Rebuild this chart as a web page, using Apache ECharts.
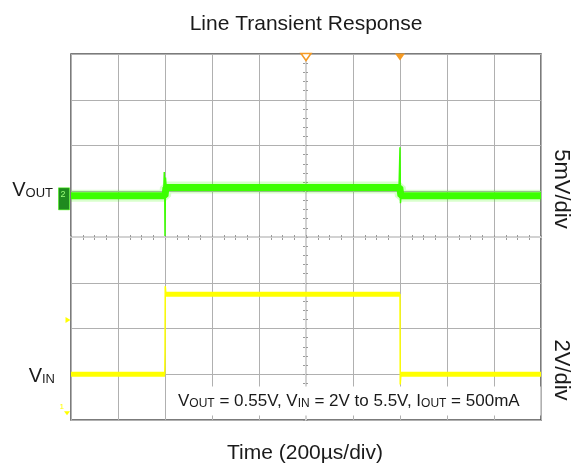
<!DOCTYPE html>
<html>
<head>
<meta charset="utf-8">
<title>Line Transient Response</title>
<script src="https://cdn.jsdelivr.net/npm/echarts@6/dist/echarts.min.js"></script>
<style>
    html, body {
        margin: 0;
        padding: 0;
        background: #fff;
    }
    #chart {
        width: 572px;
        height: 464px;
    }
</style>
</head>
<body>
<div id="chart"></div>
<script>
// time in µs (200µs/div, 0 = screen centre)
const timeTicks = [-1000, 1000, 200];
// VIN in V, 2V/div
const vinLevels = [[-1000, 2.0], [-600, 2.0], [-599, '-'], [-597, 5.5], [400, 5.5], [401, '-'], [402, 2.0], [1000, 2.0]];
const vinTrace = [[-1000, 2.0], [-601, 2.0], [-600, 2.95], [-599, 5.85], [-596, 5.5], [400, 5.5], [401, 1.55], [404, 2.0], [1000, 2.0]];
// VOUT in mV, 5mV/div
const voutLevels = [[-1000, 550.0], [-600, 550.0], [-596, 550.9], [399, 550.9], [404, 550.0], [1000, 550.0]];
const voutTrace = [[-1000, 550.0], [-606, 550.0], [-603, 552.6], [-601, 550.2], [-600, 545.6], [-598, 552.0], [-595, 550.9], [396, 550.9], [400, 555.3], [402, 549.2], [405, 550.4], [408, 550.0], [1000, 550.0]];
// channel scales (min, max of the 8 vertical divisions)
const vinRange = [0, 16];
const voutRange = [525.5, 565.5];
const divRange = [-4, 4];

const chart = echarts.init(document.getElementById('chart'));

const FONT = '"Liberation Sans", Arial, sans-serif';
const GREEN = '#3CFF00';
const YELLOW = '#FFFF00';
const ORANGE = '#F59A23';

let gridAxis = function (extra) {
    return Object.assign({
        type: 'value',
        axisLabel: { show: false },
        splitLine: { show: false },
        axisLine: { show: false, onZero: true, onZeroAxisIndex: 0 },
        axisTick: { show: true, length: 3, lineStyle: { color: '#9a9a9a', width: 1 } },
        minorTick: { show: true, length: 3, lineStyle: { color: '#9a9a9a', width: 1 } }
    }, extra);
};

let option = {
    animation: false,
    backgroundColor: '#fff',
    grid: {
        left: 71,
        top: 54,
        width: 470,
        height: 366,
        show: true,
        borderColor: '#505050',
        borderWidth: 1.5,
        backgroundColor: '#fff'
    },
    xAxis: [
        gridAxis({
            position: 'bottom',
            min: timeTicks[0], max: timeTicks[1], interval: timeTicks[2],
            splitLine: { show: true, lineStyle: { color: '#b0b0b0', width: 1 } },
            minorTick: { show: true, splitNumber: 4, length: 3, lineStyle: { color: '#9a9a9a', width: 1 } }
        }),
        gridAxis({
            position: 'top',
            z: 1,
            min: timeTicks[0], max: timeTicks[1], interval: timeTicks[2],
            axisLine: { show: true, onZero: true, onZeroAxisIndex: 0, lineStyle: { color: '#d2d2d2', width: 2 } },
            axisTick: { show: true, length: 2, lineStyle: { color: '#9a9a9a', width: 1 } },
            minorTick: { show: true, splitNumber: 4, length: 2, lineStyle: { color: '#9a9a9a', width: 1 } }
        })
    ],
    yAxis: [
        gridAxis({
            position: 'left',
            min: divRange[0], max: divRange[1], interval: 1,
            splitLine: { show: true, lineStyle: { color: '#b0b0b0', width: 1 } },
            minorTick: { show: true, splitNumber: 5, length: 3, lineStyle: { color: '#9a9a9a', width: 1 } }
        }),
        gridAxis({
            position: 'right',
            z: 1,
            min: divRange[0], max: divRange[1], interval: 1,
            axisLine: { show: true, onZero: true, onZeroAxisIndex: 0, lineStyle: { color: '#d2d2d2', width: 2 } },
            axisTick: { show: true, length: 2, lineStyle: { color: '#9a9a9a', width: 1 } },
            minorTick: { show: true, splitNumber: 5, length: 2, lineStyle: { color: '#9a9a9a', width: 1 } }
        }),
        { type: 'value', show: false, min: vinRange[0], max: vinRange[1] },
        { type: 'value', show: false, min: voutRange[0], max: voutRange[1] }
    ],
    series: [
        {
            name: 'VIN',
            type: 'line',
            xAxisIndex: 0,
            yAxisIndex: 2,
            z: 5,
            symbol: 'none',
            connectNulls: false,
            lineStyle: { color: YELLOW, width: 5 },
            data: vinLevels
        },
        {
            name: 'VIN trace',
            type: 'line',
            xAxisIndex: 0,
            yAxisIndex: 2,
            z: 5,
            symbol: 'none',
            lineStyle: { color: YELLOW, width: 1.5 },
            data: vinTrace,
            markPoint: {
                silent: true,
                data: [
                    { coord: [-1000, 4.37], symbol: 'triangle', symbolRotate: -90, symbolSize: [6, 5], symbolOffset: [-3, 0], itemStyle: { color: YELLOW }, label: { show: false } },
                    { coord: [-1000, 0.3], symbol: 'triangle', symbolRotate: 180, symbolSize: [6, 4], symbolOffset: [-4, 0], itemStyle: { color: YELLOW },
                      label: { show: true, position: 'left', formatter: '1', color: YELLOW, fontSize: 8, fontFamily: FONT, distance: 0, offset: [0, -6] } }
                ]
            }
        },
        {
            name: 'VOUT',
            type: 'line',
            xAxisIndex: 0,
            yAxisIndex: 3,
            z: 5,
            symbol: 'none',
            lineStyle: { color: GREEN, width: 12, opacity: 0.2 },
            data: voutLevels
        },
        {
            name: 'VOUT band',
            type: 'line',
            xAxisIndex: 0,
            yAxisIndex: 3,
            z: 5,
            symbol: 'none',
            lineStyle: { color: GREEN, width: 7 },
            data: voutLevels
        },
        {
            name: 'VOUT trace',
            type: 'line',
            xAxisIndex: 0,
            yAxisIndex: 3,
            z: 5,
            symbol: 'none',
            lineStyle: { color: GREEN, width: 1.5 },
            data: voutTrace,
            markPoint: {
                silent: true,
                data: [
                    { coord: [0, voutRange[1]], symbol: 'triangle', symbolRotate: 180, symbolSize: [10, 7], symbolOffset: [0, 3],
                      itemStyle: { color: '#fff', borderColor: ORANGE, borderWidth: 1.5 }, label: { show: false } },
                    { coord: [400, voutRange[1]], symbol: 'triangle', symbolRotate: 180, symbolSize: [10, 7], symbolOffset: [0, 3],
                      itemStyle: { color: ORANGE }, label: { show: false } },
                    { coord: [-1000, 550.0], symbol: 'rect', symbolSize: [11, 22], symbolOffset: [-7, 3],
                      itemStyle: { color: '#1f8a1f', borderColor: GREEN, borderWidth: 0.5 },
                      label: { show: true, position: 'inside', formatter: '2', color: '#9dff7a', fontSize: 9, fontFamily: FONT, offset: [-1, -4] } }
                ]
            }
        }
    ],
    graphic: [
        {
            type: 'text', x: 306, y: 24,
            style: { text: 'Line Transient Response', font: '21px ' + FONT, fill: '#1a1a1a', align: 'center', verticalAlign: 'middle' }
        },
        {
            type: 'text', x: 305, y: 453,
            style: { text: 'Time (200µs/div)', font: '21px ' + FONT, fill: '#1a1a1a', align: 'center', verticalAlign: 'middle' }
        },
        {
            type: 'text', x: 561, y: 189, rotation: -Math.PI / 2,
            style: { text: '5mV/div', font: '22px ' + FONT, fill: '#1a1a1a', align: 'center', verticalAlign: 'middle' }
        },
        {
            type: 'text', x: 561, y: 370, rotation: -Math.PI / 2,
            style: { text: '2V/div', font: '22px ' + FONT, fill: '#1a1a1a', align: 'center', verticalAlign: 'middle' }
        },
        {
            type: 'text', x: 53, y: 190,
            style: {
                text: '{v|V}{s|OUT}', align: 'right', verticalAlign: 'middle', fill: '#1a1a1a',
                rich: {
                    v: { fontSize: 20, fontFamily: FONT, lineHeight: 20, verticalAlign: 'bottom', fill: '#1a1a1a' },
                    s: { fontSize: 13, fontFamily: FONT, lineHeight: 15, verticalAlign: 'bottom', fill: '#1a1a1a' }
                }
            }
        },
        {
            type: 'text', x: 55, y: 376,
            style: {
                text: '{v|V}{s|IN}', align: 'right', verticalAlign: 'middle', fill: '#1a1a1a',
                rich: {
                    v: { fontSize: 20, fontFamily: FONT, lineHeight: 20, verticalAlign: 'bottom', fill: '#1a1a1a' },
                    s: { fontSize: 13, fontFamily: FONT, lineHeight: 15, verticalAlign: 'bottom', fill: '#1a1a1a' }
                }
            }
        },
        {
            type: 'text', x: 170, y: 401, z: 3,
            style: {
                text: '{v|V}{s|OUT}{v| = 0.55V, V}{s|IN}{v| = 2V to 5.5V, I}{s|OUT}{v| = 500mA}',
                align: 'left', verticalAlign: 'middle', fill: '#1a1a1a',
                backgroundColor: '#fff', padding: [6, 21, 6, 8],
                rich: {
                    v: { fontSize: 17, fontFamily: FONT, lineHeight: 17, verticalAlign: 'bottom', fill: '#1a1a1a' },
                    s: { fontSize: 12, fontFamily: FONT, lineHeight: 14, verticalAlign: 'bottom', fill: '#1a1a1a' }
                }
            }
        }
    ]
};

chart.setOption(option);
window.addEventListener('resize', function () {
    chart.resize();
});
</script>
</body>
</html>
